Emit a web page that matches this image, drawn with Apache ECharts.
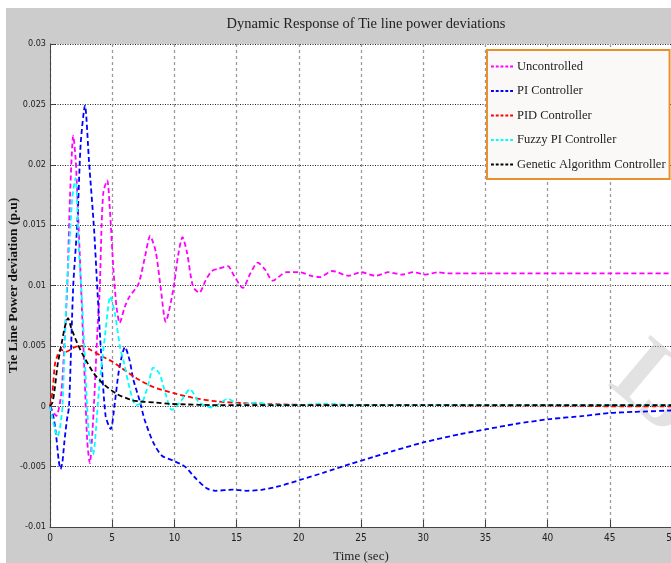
<!DOCTYPE html>
<html><head><meta charset="utf-8">
<script src="https://cdn.jsdelivr.net/npm/echarts@6/dist/echarts.min.js"></script>
<style>
html,body{margin:0;padding:0;background:#fff;}
#bg{position:absolute;left:6px;top:8px;width:665px;height:555px;background:#cccccc;}
#chart{position:absolute;left:0;top:0;width:671px;height:563px;}
</style></head><body><div id="bg"></div><div id="chart"></div>
<script>
const titleText = 'Dynamic Response of Tie line power deviations';
const xName = 'Time (sec)';
const yName = 'Tie Line Power deviation (p.u)';
const seriesNames = ['Uncontrolled', 'PI Controller', 'PID Controller', 'Fuzzy PI Controller', 'Genetic Algorithm Controller'];
const seriesColors = ['#ff00ff', '#0000ff', '#ff0000', '#00ffff', '#000000'];

const tUncontrolled = [0, 0.5, 0.9, 1.15, 1.39, 1.61, 1.87, 2.06, 2.2, 2.5, 2.8, 3.0, 3.2, 3.5, 3.8, 4.0, 4.15, 4.3, 4.6, 4.8, 5.1, 5.35, 5.6, 6.0, 6.4, 7.1, 7.6, 8.05, 8.5, 8.9, 9.3, 9.9, 10.3, 10.65, 11.0, 11.5, 12.0, 12.5, 13.0, 13.6, 14.3, 14.8, 15.5, 16.1, 16.7, 17.3, 17.9, 19.0, 20.1, 21.0, 21.7, 22.7, 24.0, 25.0, 26.2, 27.2, 28.3, 29.2, 30.2, 31.2, 32.0, 33, 35, 40, 45, 50];
const vUncontrolled = [0, -0.0008, 0.001, 0.005, 0.01, 0.0174, 0.0224, 0.0205, 0.0174, 0.0098, 0.002, -0.003, -0.0047, -0.0005, 0.006, 0.0098, 0.015, 0.0178, 0.0187, 0.0165, 0.0113, 0.0082, 0.0069, 0.0082, 0.0091, 0.0101, 0.0122, 0.0141, 0.0128, 0.0098, 0.007, 0.0096, 0.0125, 0.0140, 0.0128, 0.0099, 0.0094, 0.0104, 0.0112, 0.0114, 0.0116, 0.0108, 0.0098, 0.0110, 0.0119, 0.0113, 0.0104, 0.0111, 0.0111, 0.0108, 0.0107, 0.0112, 0.0108, 0.0111, 0.0108, 0.0111, 0.0109, 0.0111, 0.0109, 0.0111, 0.0110, 0.011, 0.011, 0.011, 0.011, 0.011];

const tPI = [0, 0.3, 0.5, 0.7, 0.85, 1.0, 1.15, 1.35, 1.53, 1.87, 2.2, 2.47, 2.81, 3.14, 3.54, 3.8, 4.1, 4.47, 4.88, 5.2, 5.55, 6.03, 6.4, 6.7, 7.2, 7.6, 8.3, 9.0, 9.9, 10.85, 11.65, 12.6, 13.3, 14.7, 15.8, 17.1, 18.5, 20.1, 22, 24.1, 26, 27.6, 30, 33, 35.1, 37.5, 40.2, 42.9, 45, 46.9, 50];
const vPI = [0, -0.001, -0.0025, -0.0045, -0.0052, -0.0046, -0.003, -0.0012, 0.0, 0.01, 0.0152, 0.0218, 0.0249, 0.0202, 0.0147, 0.0098, 0.0045, -0.0008, -0.0019, 0.0002, 0.003, 0.0049, 0.0038, 0.0022, 0.0005, -0.0011, -0.003, -0.0041, -0.0045, -0.005, -0.0059, -0.0068, -0.007, -0.0069, -0.007, -0.0069, -0.0066, -0.0061, -0.0055, -0.0048, -0.0042, -0.0037, -0.003, -0.0023, -0.0019, -0.00145, -0.00106, -0.0008, -0.00056, -0.00047, -0.00035];

const tPID = [0, 0.2, 0.4, 0.6, 0.86, 1.26, 1.66, 2.0, 2.46, 3.2, 4.07, 5.0, 5.7, 6.97, 8.3, 9.9, 11.5, 13.4, 15.5, 17.7, 20, 25, 30, 35, 40, 45, 50];
const vPID = [0, 0.0012, 0.0035, 0.0042, 0.0047, 0.0045, 0.0047, 0.0049, 0.005, 0.0047, 0.0042, 0.0037, 0.0032, 0.0023, 0.0016, 0.0011, 0.0007, 0.0004, 0.00026, 0.00018, 0.00012, 0.0001, 0.0001, 0.00005, 0.00005, 0.0, 0.0];

const tFuzzy = [0, 0.3, 0.6, 0.8, 1.0, 1.34, 1.6, 1.8, 2.05, 2.33, 2.55, 2.8, 3.1, 3.45, 3.94, 4.47, 4.85, 5.2, 5.63, 5.95, 6.4, 6.9, 7.4, 7.9, 8.3, 8.8, 9.3, 9.8, 10.5, 11.25, 12.0, 13.0, 14.3, 15.3, 16.5, 18, 20, 22, 25, 30, 35, 40, 45, 50];
const vFuzzy = [0, -0.0015, -0.0025, -0.0018, 0.0, 0.0095, 0.0141, 0.0174, 0.0189, 0.0128, 0.0092, 0.004, -0.002, -0.004, 0.0014, 0.0063, 0.0091, 0.0078, 0.0049, 0.0036, 0.0015, 0.0001, 0.0003, 0.0018, 0.0032, 0.0027, 0.001, -0.0003, 0.0004, 0.0014, 0.0003, -0.0001, 0.0006, 0.0001, 0.0003, 0.0001, 0.0001, 0.0002, 0.0001, 0.0001, 0.0001, 0.0001, 0.0001, 0.0001];

const tGenetic = [0, 0.2, 0.4, 0.59, 0.8, 0.99, 1.2, 1.45, 1.7, 2.2, 2.73, 3.54, 4.34, 5.4, 6.6, 7.2, 8.5, 9.6, 11, 13, 15, 20, 25, 30, 35, 40, 45, 50];
const vGenetic = [0, 0.0003, 0.0016, 0.0033, 0.0045, 0.0055, 0.0066, 0.0073, 0.0065, 0.0052, 0.0041, 0.0027, 0.0018, 0.001, 0.0005, 0.0004, 0.0003, 0.0002, 0.00015, 0.0001, 0.0001, 0.0001, 0.0001, 0.0001, 0.0001, 0.0001, 0.0001, 0.0001];

const xTicks = {min: 0, max: 50, interval: 5};
const yTicks = {min: -0.01, max: 0.03, interval: 0.005};

const allT = [tUncontrolled, tPI, tPID, tFuzzy, tGenetic];
const allV = [vUncontrolled, vPI, vPID, vFuzzy, vGenetic];
const zip = (t, v) => t.map((x, i) => [x, v[i]]);

const tickFont = '"Liberation Sans Narrow", "DejaVu Sans Condensed", sans-serif';
const serif = '"Liberation Serif", "DejaVu Serif", serif';
const dashIcon = 'path://M0,0 h3 v2 h-3 z M5,0 h3 v2 h-3 z M10,0 h3 v2 h-3 z M15,0 h3 v2 h-3 z M20,0 h3 v2 h-3 z';

const chart = echarts.init(document.getElementById('chart'), null, {renderer: 'canvas'});
chart.setOption({
  animation: false,
  backgroundColor: 'transparent',
  title: {
    text: titleText, left: 361, top: 12, textAlign: 'center',
    textStyle: {fontFamily: serif, fontSize: 14.5, fontWeight: 'normal', color: '#222'}
  },
  grid: {left: 50, top: 44, width: 622, height: 483, show: true, backgroundColor: '#ffffff', borderWidth: 0,
    containLabel: false, outerBoundsMode: 'none'},
  legend: {
    orient: 'vertical', left: 487, top: 50,
    itemWidth: 22, itemHeight: 2, itemGap: 9.5,
    padding: [9, 4, 7, 4],
    icon: dashIcon,
    backgroundColor: '#fbf8f8', borderColor: '#e8902c', borderWidth: 2, borderRadius: 0,
    textStyle: {fontFamily: serif, fontSize: 12.5, color: '#222', padding: [0, 0, 0, -1], lineHeight: 15},
    data: seriesNames
  },
  xAxis: {
    type: 'value', min: xTicks.min, max: xTicks.max, interval: xTicks.interval,
    name: xName, nameLocation: 'middle', nameGap: 23, nameMoveOverlap: false,
    nameTextStyle: {fontFamily: serif, fontSize: 13, color: '#222'},
    axisLine: {show: true, onZero: false, lineStyle: {color: '#444', width: 1}},
    axisTick: {show: true, inside: true, length: 7, lineStyle: {color: '#444'}},
    axisLabel: {fontFamily: tickFont, fontSize: 10, color: '#222', margin: 6},
    splitLine: {show: true, lineStyle: {color: '#9a9a9a', type: [3, 3], width: 1.3}}
  },
  yAxis: {
    type: 'value', min: yTicks.min, max: yTicks.max, interval: yTicks.interval,
    name: yName, nameLocation: 'middle', nameGap: 29, nameRotate: 90, nameMoveOverlap: false,
    nameTextStyle: {fontFamily: serif, fontSize: 13.5, fontWeight: 'bold', color: '#111'},
    axisLine: {show: true, lineStyle: {color: '#444', width: 1}},
    axisTick: {show: true, inside: true, length: 5, lineStyle: {color: '#444'}},
    axisLabel: {fontFamily: tickFont, fontSize: 9, color: '#222', margin: 4,
      formatter: v => String(+v.toFixed(3))},
    splitLine: {show: true, lineStyle: {color: '#222', type: [1, 1.5], width: 1}}
  },
  graphic: [{
    type: 'text', left: 590, top: 325, rotation: -0.7, z: 1,
    style: {text: 'IJE', fontFamily: serif, fontSize: 100, fontWeight: 'bold', fill: 'rgba(190,190,190,0.45)'}
  }],
  series: seriesNames.map((n, i) => ({
    name: n, type: 'line', data: zip(allT[i], allV[i]),
    showSymbol: false, symbol: 'none', smooth: 0.25, clip: true,
    itemStyle: {color: seriesColors[i]},
    lineStyle: {color: seriesColors[i], width: 1.8, type: [5, 3]}
  }))
});
</script></body></html>
